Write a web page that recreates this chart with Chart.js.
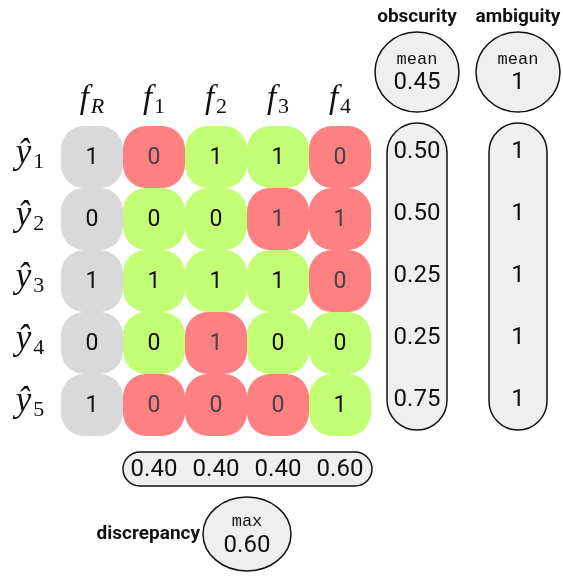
<!DOCTYPE html>
<html>
<head>
<meta charset="utf-8">
<script src="https://cdn.jsdelivr.net/npm/chart.js"></script>
<style>
  html, body { margin: 0; padding: 0; background: #fff; }
  #wrap { width: 563px; height: 576px; }
</style>
</head>
<body>
<div id="wrap"><canvas id="chart" width="563" height="576"></canvas></div>
<script>
// Model names (subscripts of f) and prediction rows (subscripts of y-hat)
const models = ['R', '1', '2', '3', '4'];
const rows = ['1', '2', '3', '4', '5'];

// Predictions per model, one value per row
const fR = [1, 0, 1, 0, 1];
const f1 = [0, 0, 1, 0, 0];
const f2 = [1, 0, 1, 1, 0];
const f3 = [1, 1, 1, 0, 0];
const f4 = [0, 1, 0, 0, 1];

// Per-row scores and per-model scores
const obscurity = [0.50, 0.50, 0.25, 0.25, 0.75];
const ambiguity = [1, 1, 1, 1, 1];
const discrepancy = [0.40, 0.40, 0.40, 0.60];
const obscurityMean = 0.45;
const ambiguityMean = 1;
const discrepancyMax = 0.60;

const GRAY = '#d9d9d9';
const RED = '#ff8080';
const GREEN = '#c3fd74';
const PILL = '#efefef';

const CELL_R = 36;            // point radius (also the chart area inset)
const CELL = 62;              // drawn cell size
const STEP = 62;              // px between cell centres
const X0 = 92, Y0 = 157;      // px position of the first cell

// rounded square point images, one per colour
function cellImage(color) {
  const c = document.createElement('canvas');
  c.width = CELL;
  c.height = CELL;
  const g = c.getContext('2d');
  g.beginPath();
  g.roundRect(0, 0, CELL, CELL, 23);
  g.fillStyle = color;
  g.fill();
  return c;
}
const cellStyles = { gray: cellImage(GRAY), red: cellImage(RED), green: cellImage(GREEN) };

const columns = [fR, f1, f2, f3, f4];
const cells = [];
columns.forEach((col, c) => {
  col.forEach((v, r) => {
    cells.push({ x: c, y: r, v: v, ref: c === 0, match: v === fR[r] });
  });
});

function pill(ctx, x0, y0, x1, y1) {
  const r = Math.min(x1 - x0, y1 - y0) / 2;
  ctx.beginPath();
  ctx.roundRect(x0, y0, x1 - x0, y1 - y0, r);
  ctx.fillStyle = PILL;
  ctx.fill();
  ctx.lineWidth = 1.5;
  ctx.strokeStyle = '#111';
  ctx.stroke();
}

function ellipse(ctx, cx, cy, rx, ry) {
  ctx.beginPath();
  ctx.ellipse(cx, cy, rx, ry, 0, 0, Math.PI * 2);
  ctx.fillStyle = PILL;
  ctx.fill();
  ctx.lineWidth = 1.5;
  ctx.strokeStyle = '#111';
  ctx.stroke();
}

function mathLabel(ctx, base, sub, x, y, baseSize, subItalic) {
  const bf = 'italic ' + baseSize + 'px "Liberation Serif"';
  const sf = (subItalic ? 'italic ' : '') + '22px "Liberation Serif"';
  ctx.textBaseline = 'alphabetic';
  ctx.textAlign = 'left';
  ctx.font = bf;
  const w1 = ctx.measureText(base).width;
  ctx.font = sf;
  const w2 = ctx.measureText(sub).width;
  const left = x - (w1 + w2 + 2) / 2;
  ctx.fillStyle = '#111';
  ctx.font = bf;
  ctx.fillText(base, left, y);
  ctx.font = sf;
  ctx.fillText(sub, left + w1 + 2, y + 5);
}

const decorations = {
  id: 'decorations',
  beforeDatasetsDraw(chart) {
    const ctx = chart.ctx;
    const px = v => chart.scales.x.getPixelForValue(v);
    const py = v => chart.scales.y.getPixelForValue(v);
    const obsX = px(4) + 77, ambX = px(4) + 178;
    ctx.save();
    // column pills
    pill(ctx, obsX - 30, py(0) - 34, obsX + 30, py(4) + 25);
    pill(ctx, ambX - 29, py(0) - 34, ambX + 29, py(4) + 25);
    // mean circles
    ellipse(ctx, obsX, py(0) - 85, 42, 40);
    ellipse(ctx, ambX, py(0) - 85, 42, 40);
    // bottom pill and max circle
    pill(ctx, px(1) - 31, py(4) + 47, px(4) + 32, py(4) + 81);
    ellipse(ctx, px(2) + 31, py(4) + 129, 44, 37);
    ctx.restore();
  },
  afterDatasetsDraw(chart) {
    const ctx = chart.ctx;
    const px = v => chart.scales.x.getPixelForValue(v);
    const py = v => chart.scales.y.getPixelForValue(v);
    const obsX = px(4) + 77, ambX = px(4) + 178;
    ctx.save();

    // cell values
    const meta = chart.getDatasetMeta(0);
    ctx.textAlign = 'center';
    ctx.textBaseline = 'middle';
    ctx.font = '23px Roboto';
    meta.data.forEach((el, i) => {
      const p = cells[i];
      ctx.fillStyle = (!p.ref && !p.match) ? '#444' : '#111';
      ctx.fillText(String(p.v), el.x, el.y + 1);
    });

    // column headers f_R, f_1 ...
    models.forEach((m, c) => {
      mathLabel(ctx, 'f', m, px(c), py(0) - 49, 33, m === 'R');
    });
    // row headers y-hat_1 ...
    rows.forEach((r, i) => {
      mathLabel(ctx, 'ŷ', r, px(0) - 62, py(i) + 6, 35, false);
    });

    // obscurity / ambiguity values
    ctx.textAlign = 'center';
    ctx.textBaseline = 'middle';
    ctx.fillStyle = '#111';
    ctx.font = '24px Roboto';
    obscurity.forEach((v, i) => ctx.fillText(v.toFixed(2), obsX, py(i) - 5));
    ambiguity.forEach((v, i) => ctx.fillText(String(v), ambX, py(i) - 5));
    discrepancy.forEach((v, i) => ctx.fillText(v.toFixed(2), px(i + 1), py(4) + 65));

    // summary circles
    ctx.font = '17px "Liberation Mono"';
    ctx.fillText('mean', obsX, py(0) - 98);
    ctx.fillText('mean', ambX, py(0) - 98);
    ctx.fillText('max', px(2) + 31, py(4) + 116);
    ctx.font = '24px Roboto';
    ctx.fillText(obscurityMean.toFixed(2), obsX, py(0) - 74);
    ctx.fillText(String(ambiguityMean), ambX, py(0) - 74);
    ctx.fillText(discrepancyMax.toFixed(2), px(2) + 31, py(4) + 141);

    // titles
    ctx.font = 'bold 19px Roboto';
    ctx.fillText('obscurity', obsX, py(0) - 140);
    ctx.fillText('ambiguity', ambX, py(0) - 140);
    ctx.textAlign = 'right';
    ctx.fillText('discrepancy', px(2) - 16, py(4) + 129);
    ctx.restore();
  }
};

// the scatter controller insets the chart area by the point radius
const W = 563, H = 576;
new Chart(document.getElementById('chart'), {
  type: 'scatter',
  data: {
    datasets: [{
      data: cells,
      pointStyle: ctx => {
        const p = ctx.raw;
        if (!p || p.ref) return cellStyles.gray;
        return p.match ? cellStyles.green : cellStyles.red;
      },
      pointRadius: CELL_R,
      pointHoverRadius: CELL_R,
      borderWidth: 0,
      backgroundColor: GRAY,
      clip: false
    }]
  },
  options: {
    responsive: false,
    animation: false,
    events: [],
    layout: { padding: 0 },
    plugins: { legend: { display: false }, tooltip: { enabled: false } },
    scales: {
      x: {
        type: 'linear', display: false,
        min: -(X0 - CELL_R) / STEP,
        max: (W - CELL_R - X0) / STEP
      },
      y: {
        type: 'linear', display: false, reverse: true,
        min: -(Y0 - CELL_R) / STEP,
        max: (H - CELL_R - Y0) / STEP
      }
    }
  },
  plugins: [decorations]
});
</script>
</body>
</html>
